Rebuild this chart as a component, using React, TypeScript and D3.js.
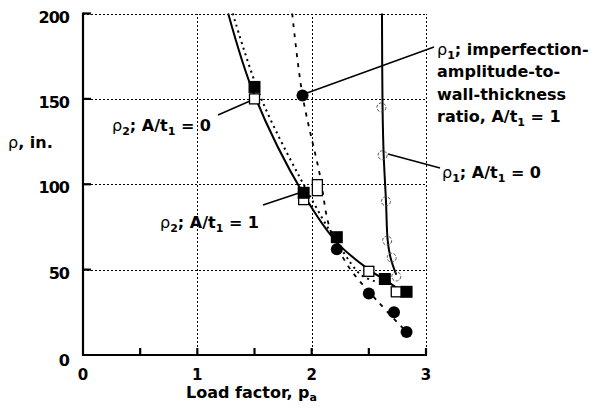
import React from 'react';
import * as d3 from 'd3';

// points
const rho2OpenSq: [number, number][] = [[1.5, 150], [1.93, 91], [2.05, 98], [2.5, 49], [2.74, 37]];
const rho2FilledSq: [number, number][] = [[1.5, 157], [1.93, 95], [2.22, 69], [2.64, 44.5], [2.83, 37]];
const rho1FilledCirc: [number, number][] = [[1.92, 152], [2.22, 62], [2.5, 36], [2.72, 25], [2.83, 13.5]];
const rho1OpenCirc: [number, number][] = [[2.61, 145], [2.62, 117], [2.65, 90], [2.66, 67], [2.7, 57], [2.74, 46]];

// fitted curves
const rho2SolidFit: [number, number][] = [[1.27, 200], [1.5, 152], [1.93, 94], [2.22, 66], [2.5, 50], [2.64, 44], [2.75, 39]];
const rho2DottedFit: [number, number][] = [[1.31, 200], [1.56, 150], [2.01, 90], [2.26, 62], [2.43, 47], [2.56, 43]];
const rho1DashedFit: [number, number][] = [[1.83, 200], [1.92, 152], [2.07, 106], [2.16, 74], [2.32, 52], [2.57, 32], [2.83, 13.5]];
const rho1SolidFit: [number, number][] = [[2.615, 200], [2.62, 145], [2.63, 117], [2.65, 90], [2.665, 67], [2.69, 57], [2.74, 47]];

const xTickLabels = [0, 1, 2, 3];
const xMinorTicks = [0.5, 1, 1.5, 2, 2.5, 3];
const yTickLabels = [0, 50, 100, 150, 200];
const gridY = [50, 100, 150, 200];
const gridX = [1, 2, 3];

const W = 608, H = 415;
const FONT = '"DejaVu Sans", sans-serif';

export default function App() {
  const x = d3.scaleLinear().domain([0, 3]).range([83, 426]);
  const y = d3.scaleLinear().domain([0, 200]).range([355, 13.5]);
  const line = d3.line<[number, number]>()
    .x(d => x(d[0]))
    .y(d => y(d[1]))
    .curve(d3.curveCatmullRom);
  const px = (v: number) => Math.round(v) + 0.5;

  const sub = (s: string) => <tspan dy={4} fontSize={11}>{s}</tspan>;

  return (
    <svg width={W} height={H} style={{ position: 'absolute', left: 0, top: 0 }} fontFamily={FONT}>
      <rect width={W} height={H} fill="#fff" />
      {/* grid */}
      <g stroke="#000" strokeWidth={1} strokeDasharray="2,2" fill="none" shapeRendering="crispEdges">
        {gridY.map(v => (
          <line key={'h' + v} x1={x(0)} x2={x(3)} y1={px(y(v))} y2={px(y(v))} />
        ))}
        {gridX.map(v => (
          <line key={'v' + v} x1={px(x(v))} x2={px(x(v))} y1={y(0)} y2={y(200)} />
        ))}
      </g>
      {/* axes */}
      <g stroke="#000" strokeWidth={2.2} fill="none">
        <line x1={x(0) - 1} x2={x(3) + 1} y1={y(0)} y2={y(0)} />
        <line x1={x(0)} x2={x(0)} y1={y(0) + 1} y2={y(200) - 1} />
        {xMinorTicks.map(v => (
          <line key={'xt' + v} x1={x(v)} x2={x(v)} y1={y(0)} y2={y(0) - 7} />
        ))}
        {gridY.map(v => (
          <line key={'yt' + v} x1={x(0)} x2={x(0) + 8} y1={y(v)} y2={y(v)} />
        ))}
      </g>
      {/* tick labels */}
      <g fontWeight="bold" fill="#000">
        {yTickLabels.map(v => (
          <text key={'yl' + v} x={69} y={y(v) + (v === 0 ? 11 : 9)} fontSize={16} textAnchor="end" letterSpacing={-1}>{v}</text>
        ))}
        {xTickLabels.map(v => (
          <text key={'xl' + v} x={x(v)} y={380} fontSize={15} textAnchor="middle">{v}</text>
        ))}
        <text x={186} y={398} fontSize={16}>Load factor, p<tspan dy={3} fontSize={11}>a</tspan></text>
        <text x={8} y={148} fontSize={16}><tspan fontWeight="normal">ρ</tspan>, in.</text>
      </g>

      {/* fitted curves */}
      <path d={line(rho2SolidFit) || ''} fill="none" stroke="#000" strokeWidth={2} />
      <path d={line(rho2DottedFit) || ''} fill="none" stroke="#000" strokeWidth={2} strokeDasharray="2,4" />
      <path d={line(rho1DashedFit) || ''} fill="none" stroke="#000" strokeWidth={1.8} strokeDasharray="4,6" />
      <path d={line(rho1SolidFit) || ''} fill="none" stroke="#000" strokeWidth={2} />

      {/* markers */}
      {rho2OpenSq.map((d, i) => {
        const big = i === 2;
        const w = 10, h = big ? 16 : 10;
        return <rect key={'os' + i} x={x(d[0]) - w / 2} y={y(d[1]) - h / 2} width={w} height={h}
          fill="#fff" stroke="#000" strokeWidth={1.3} />;
      })}
      {rho2FilledSq.map((d, i) => (
        <rect key={'fs' + i} x={x(d[0]) - 6} y={y(d[1]) - 6} width={12} height={12} fill="#000" />
      ))}
      {rho1FilledCirc.map((d, i) => (
        <circle key={'fc' + i} cx={x(d[0])} cy={y(d[1])} r={6} fill="#000" />
      ))}
      {rho1OpenCirc.map((d, i) => (
        <circle key={'oc' + i} cx={x(d[0])} cy={y(d[1])} r={4.5} fill="none" stroke="#555" strokeWidth={1} strokeDasharray="3,1.5" />
      ))}

      {/* leader lines */}
      <g stroke="#000" strokeWidth={1.5}>
        <line x1={218} y1={115} x2={250} y2={101} />
        <line x1={263} y1={205} x2={299} y2={193} />
        <line x1={307} y1={93} x2={434} y2={47} />
        <line x1={388} y1={154} x2={440} y2={168} />
      </g>

      {/* annotations */}
      <g fontWeight="bold" fontSize={16} fill="#000">
        <text x={112} y={131}><tspan fontWeight="normal">ρ</tspan>{sub('2')}<tspan dy={-4}>; A/t</tspan>{sub('1')}<tspan dy={-4}> = 0</tspan></text>
        <text x={160} y={228}><tspan fontWeight="normal">ρ</tspan>{sub('2')}<tspan dy={-4}>; A/t</tspan>{sub('1')}<tspan dy={-4}> = 1</tspan></text>
        <text x={442} y={178}><tspan fontWeight="normal">ρ</tspan>{sub('1')}<tspan dy={-4}>; A/t</tspan>{sub('1')}<tspan dy={-4}> = 0</tspan></text>
        <text x={437} y={55}><tspan fontWeight="normal">ρ</tspan>{sub('1')}<tspan dy={-4}>; imperfection-</tspan></text>
        <text x={437} y={77}>amplitude-to-</text>
        <text x={437} y={100}>wall-thickness</text>
        <text x={437} y={122}>ratio, A/t{sub('1')}<tspan dy={-4}> = 1</tspan></text>
      </g>
    </svg>
  );
}
